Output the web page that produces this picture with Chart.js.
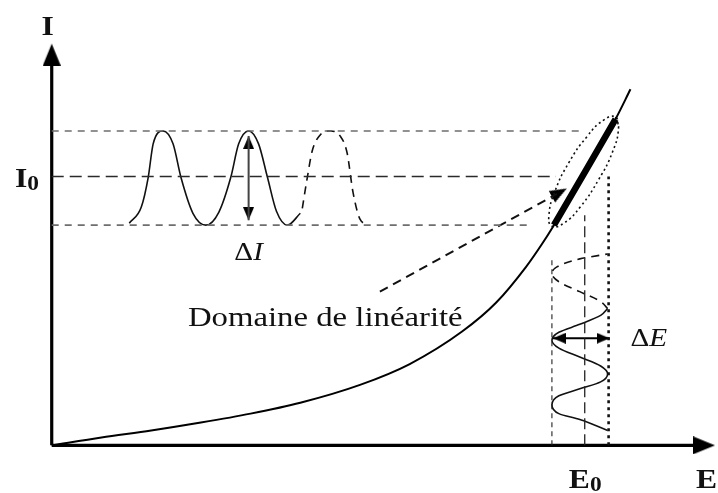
<!DOCTYPE html>
<html>
<head>
<meta charset="utf-8">
<title>Domaine de linéarité</title>
<script src="https://cdn.jsdelivr.net/npm/chart.js@4.4.1/dist/chart.umd.min.js"></script>
<style>
  html, body { margin: 0; padding: 0; background: #fff; }
  #wrap { width: 718px; height: 493px; }
</style>
</head>
<body>
<div id="wrap"><canvas id="chart" width="718" height="493"></canvas></div>
<script>
/* ===================================================
   Caractéristique I = f(E) — domaine de linéarité
   values, origin at the axes corner
   =================================================== */

/* --- I = f(E) characteristic --- */
var CURVE = [[0, 0], [50, 8], [100, 15], [150, 23], [200, 32], [250, 43], [310, 61], [360, 82],
  [413, 115], [447, 144], [477, 180], [493, 203], [505, 222], [537, 277], [567, 329], [582, 359]];
var LINEAR_PART = [[505, 222], [537, 277], [567, 329]];
var LINEAR_ZONE = [[567, 331], [570, 320], [564, 296], [550, 268], [532, 241], [515, 224], [503, 221],
  [500, 232], [506, 256], [520, 285], [538, 311], [555, 328], [567, 331], [570, 320]];

/* --- operating levels --- */
var I_LEVELS = [317, 271, 222];         // I max, I0, I min
var I_LEVEL_ENDS = [532, 507, 480];     // where each level line stops
var E_LEVELS = [503, 536, 560];         // E min, E0, E max
var E_LEVEL_TOPS = [190, 232, 271];

/* --- current signal (left) --- */
var I_WAVE = [[78, 224], [90, 240], [97, 270], [102, 304], [112, 317], [122, 304], [130, 270],
  [142, 234], [155, 222], [168, 235], [180, 270], [188, 304], [198, 317], [208, 304], [217, 270],
  [226, 236], [237, 222], [250, 234]];
var I_WAVE_NEXT = [[252, 239], [257, 270], [262, 297], [270, 313], [280, 317], [290, 312],
  [297, 295], [303, 255], [310, 228], [317, 223]];
var DELTA_I = [[198, 312], [198, 227]];

/* --- potential signal (bottom) --- */
var E_WAVE = [[559, 15], [531, 26], [510, 32], [503, 41], [510, 50], [531, 57], [552, 64],
  [559, 72], [552, 80], [531, 89], [510, 98], [503, 106], [510, 114], [531, 122], [552, 131],
  [559, 138]];
var E_WAVE_NEXT = [[559, 138], [552, 145], [531, 155], [510, 165], [503, 173], [508, 180],
  [531, 188], [559, 193]];
var DELTA_E = [[504, 108], [561, 108]];

/* --- pointer from the caption to the linear part --- */
var POINTER = [[330, 155], [508, 253.5]];
var POINTER_TIP = [518, 259];

/* --- axes --- */
var AXIS_I = [[0, 0], [0, 390]];
var AXIS_E = [[0, 0], [650, 0]];
var AXIS_TIPS = [[0, 405], [667, 0]];

/* --- texts --- */
var INK = "#111";
var STRETCH = 1.17;
var BOLD = "bold 27px 'Liberation Serif', 'DejaVu Serif', serif";
var SUB = "bold 20px 'Liberation Serif', 'DejaVu Serif', serif";
var REG = "25px 'Liberation Serif', 'DejaVu Serif', serif";
var ITAL = "italic 25px 'Liberation Serif', 'DejaVu Serif', serif";
var CAPTION = "28px 'Liberation Serif', 'DejaVu Serif', serif";

var LABELS = [
  { e: -4, i: 414, align: "center", runs: [["I", BOLD]] },
  { e: -37, i: 260, runs: [["I", BOLD], ["0", SUB, 3]] },
  { e: 648, i: -43, runs: [["E", BOLD]] },
  { e: 520, i: -43, runs: [["E", BOLD], ["0", SUB, 3]] },
  { e: 198, i: 187, align: "center", runs: [["Δ", REG], ["I", ITAL]] },
  { e: 582, i: 100, runs: [["Δ", REG], ["E", ITAL]] },
  { e: 137, i: 120, runs: [["Domaine de linéarité", CAPTION]] },
];

/* --- Helpers --- */
function pts(list) {
  return list.map(function (p) {
    return { x: p[0], y: p[1] };
  });
}

function line(list, color, width, dash, tension) {
  return {
    data: pts(list),
    showLine: true,
    borderColor: color,
    borderWidth: width,
    borderDash: dash || [],
    tension: tension || 0,
    pointRadius: 0,
    pointHoverRadius: 0,
    fill: false,
  };
}

/* smooth line, monotone along the given axis */
function smooth(list, color, width, dash, axis) {
  var ds = line(list, color, width, dash);
  ds.cubicInterpolationMode = "monotone";
  if (axis) ds.indexAxis = axis;
  return ds;
}

/* arrowhead drawn in a canvas whose centre is the tip, pointing up */
function makeHead(len, wid) {
  var c = document.createElement("canvas");
  c.width = wid;
  c.height = len * 2;
  var g = c.getContext("2d");
  g.fillStyle = "#000";
  g.beginPath();
  g.moveTo(wid / 2, len);
  g.lineTo(wid, len * 2);
  g.lineTo(0, len * 2);
  g.closePath();
  g.fill();
  return c;
}

function heads(list, canvas, rotations) {
  return {
    data: pts(list),
    showLine: false,
    pointStyle: canvas,
    pointRotation: rotations,
    pointRadius: 1,
    pointHoverRadius: 1,
  };
}

var AXIS_HEAD = makeHead(22, 18);
var SMALL_HEAD = makeHead(13, 11);
var POINTER_HEAD = makeHead(17, 13);

/* --- texts plugin --- */
var textPlugin = {
  id: "figureText",
  afterDatasetsDraw: function (chart) {
    var ctx = chart.ctx;
    var xs = chart.scales.x;
    var ys = chart.scales.y;
    LABELS.forEach(function (l) {
      ctx.save();
      ctx.translate(xs.getPixelForValue(l.e), ys.getPixelForValue(l.i));
      ctx.scale(STRETCH, 1);
      ctx.fillStyle = INK;
      ctx.textBaseline = "alphabetic";
      ctx.textAlign = "left";
      var total = 0;
      l.runs.forEach(function (r) {
        ctx.font = r[1];
        total += ctx.measureText(r[0]).width;
      });
      var x = l.align === "center" ? -total / 2 : 0;
      l.runs.forEach(function (r) {
        ctx.font = r[1];
        ctx.fillText(r[0], x, r[2] || 0);
        x += ctx.measureText(r[0]).width;
      });
      ctx.restore();
    });
  },
};

/* --- datasets --- */
var datasets = [];

// level lines
datasets.push(line([[0, I_LEVELS[0]], [I_LEVEL_ENDS[0], I_LEVELS[0]]], "#6e6e6e", 1.6, [7, 6]));
datasets.push(line([[0, I_LEVELS[1]], [I_LEVEL_ENDS[1], I_LEVELS[1]]], "#2a2a2a", 1.6, [12, 6]));
datasets.push(line([[0, I_LEVELS[2]], [I_LEVEL_ENDS[2], I_LEVELS[2]]], "#6e6e6e", 1.6, [7, 6]));
datasets.push(line([[E_LEVELS[0], 0], [E_LEVELS[0], E_LEVEL_TOPS[0]]], "#222", 1.1, [5, 4]));
datasets.push(line([[E_LEVELS[1], 0], [E_LEVELS[1], E_LEVEL_TOPS[1]]], "#222", 1.3, [11, 5]));
datasets.push(line([[E_LEVELS[2], 0], [E_LEVELS[2], E_LEVEL_TOPS[2]]], "#111", 2.6, [3, 4]));

// characteristic
datasets.push(smooth(CURVE, "#000", 2));
datasets.push(line(LINEAR_PART, "#000", 6.5, null, 0.3));
datasets.push(line(LINEAR_ZONE, "#111", 1.6, [2, 3], 0.5));

// signals
datasets.push(smooth(I_WAVE, "#111", 1.6));
datasets.push(smooth(I_WAVE_NEXT, "#111", 1.6, [8, 6]));
datasets.push(line(DELTA_I, "#444", 2));
datasets.push(heads(DELTA_I, SMALL_HEAD, [0, 180]));
datasets.push(smooth(E_WAVE, "#111", 1.6, null, "y"));
datasets.push(smooth(E_WAVE_NEXT, "#111", 1.6, [8, 6], "y"));
datasets.push(line(DELTA_E, "#000", 2));
datasets.push(heads(DELTA_E, SMALL_HEAD, [270, 90]));

// pointer
datasets.push(line(POINTER, "#111", 2, [9, 6]));
datasets.push(heads([POINTER_TIP], POINTER_HEAD, [61]));

// axes
datasets.push(line(AXIS_I, "#000", 3.2));
datasets.push(line(AXIS_E, "#000", 3.2));
datasets.push(heads(AXIS_TIPS, AXIS_HEAD, [0, 90]));

/* --- chart --- */
new Chart(document.getElementById("chart"), {
  type: "line",
  data: { datasets: datasets },
  options: {
    responsive: false,
    animation: false,
    events: [],
    layout: { padding: 0 },
    plugins: {
      legend: { display: false },
      tooltip: { enabled: false },
    },
    scales: {
      x: { type: "linear", min: -50, max: 668, display: false },
      y: { type: "linear", min: -46, max: 447, display: false },
    },
  },
  plugins: [textPlugin],
});
</script>
</body>
</html>
